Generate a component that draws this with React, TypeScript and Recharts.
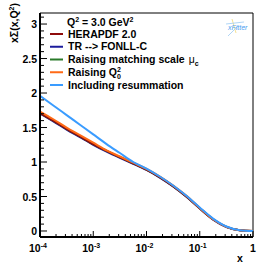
import React from "react";
import { LineChart, Line, XAxis, YAxis, Legend, ReferenceArea } from "recharts";

// log10(x) sample points and curve values
const logX = [-4, -3.75, -3.5, -3.25, -3, -2.75, -2.5, -2.25, -2, -1.75, -1.5, -1.25, -1, -0.75, -0.5, -0.25, 0];
const herapdf = [1.71, 1.6, 1.48, 1.37, 1.26, 1.16, 1.07, 0.98, 0.89, 0.78, 0.65, 0.5, 0.33, 0.17, 0.06, 0.01, 0];
const fonllC = [1.7, 1.59, 1.47, 1.36, 1.25, 1.15, 1.06, 0.975, 0.885, 0.775, 0.645, 0.495, 0.325, 0.165, 0.058, 0.01, 0];
const matchScale = [1.71, 1.6, 1.48, 1.37, 1.26, 1.16, 1.07, 0.98, 0.89, 0.78, 0.65, 0.5, 0.33, 0.17, 0.06, 0.01, 0];
const raiseQ0 = [1.73, 1.62, 1.5, 1.39, 1.28, 1.17, 1.08, 0.99, 0.9, 0.79, 0.66, 0.51, 0.335, 0.17, 0.06, 0.01, 0];
const resum = [1.96, 1.82, 1.68, 1.54, 1.4, 1.26, 1.13, 1.0, 0.905, 0.79, 0.66, 0.51, 0.34, 0.18, 0.065, 0.012, 0];

const yMajor = [0, 0.5, 1, 1.5, 2, 2.5, 3];
const yTicks = [0, 0.1, 0.2, 0.3, 0.4, 0.5, 0.6, 0.7, 0.8, 0.9, 1, 1.1, 1.2, 1.3, 1.4, 1.5, 1.6, 1.7, 1.8, 1.9, 2, 2.1, 2.2, 2.3, 2.4, 2.5, 2.6, 2.7, 2.8, 2.9, 3, 3.1];
const decades = [-4, -3, -2, -1];
const xTicks: number[] = [];
decades.forEach((d) => {
  for (let m = 1; m < 10; m++) xTicks.push(m * Math.pow(10, d));
});
xTicks.push(1);

const colors = {
  herapdf: "#8e0b0b",
  fonllC: "#1c1c9c",
  matchScale: "#2a7a2a",
  raiseQ0: "#ff6a16",
  resum: "#3a9cff",
};

const data = logX.map((l, i) => ({
  x: Math.pow(10, l),
  herapdf: herapdf[i],
  fonllC: fonllC[i],
  matchScale: matchScale[i],
  raiseQ0: raiseQ0[i],
  resum: resum[i],
}));

const FONT = "'Liberation Sans', Arial, Helvetica, sans-serif";

const YTick = (props: any) => {
  const { x, y, payload } = props;
  const v = payload.value;
  const major = yMajor.some((m) => Math.abs(m - v) < 1e-6);
  return (
    <g>
      <line x1={x} x2={x + (major ? 7 : 4)} y1={y} y2={y} stroke="#000" strokeWidth={1} />
      {major && (
        <text x={x - 3} y={y + 4} textAnchor="end" fontSize={10.5} fontWeight="bold" fontFamily={FONT} fill="#000">
          {String(v)}
        </text>
      )}
    </g>
  );
};

const XTick = (props: any) => {
  const { x, y, payload } = props;
  const lv = Math.log10(payload.value);
  const e = Math.round(lv);
  const major = Math.abs(lv - e) < 1e-6;
  return (
    <g>
      <line x1={x} x2={x} y1={y} y2={y - (major ? 6 : 3)} stroke="#000" strokeWidth={1} />
      {major &&
        (e === 0 ? (
          <text x={x} y={y + 15} textAnchor="middle" fontSize={10.5} fontWeight="bold" fontFamily={FONT} fill="#000">
            1
          </text>
        ) : (
          <text x={x - 2} y={y + 15} textAnchor="middle" fontSize={10.5} fontWeight="bold" fontFamily={FONT} fill="#000">
            10
            <tspan dy={-4} fontSize={7}>
              {String(e)}
            </tspan>
          </text>
        ))}
    </g>
  );
};

const rows = [
  { key: "herapdf", label: <tspan>HERAPDF 2.0</tspan> },
  { key: "fonllC", label: <tspan>TR --&gt; FONLL-C</tspan> },
  {
    key: "matchScale",
    label: (
      <>
        <tspan>Raising matching scale </tspan>
        <tspan fontWeight="normal" dx={1}> μ</tspan>
        <tspan dy={3} fontSize={7}>c</tspan>
      </>
    ),
  },
  {
    key: "raiseQ0",
    label: (
      <>
        <tspan>Raising Q</tspan>
        <tspan dy={-4} fontSize={7}>2</tspan>
        <tspan dx={-4} dy={7} fontSize={7}>0</tspan>
      </>
    ),
  },
  { key: "resum", label: <tspan>Including resummation</tspan> },
];

const LegendBox = () => (
  <svg width={266} height={100} style={{ display: "block" }}>
    <g fontFamily={FONT} fontWeight="bold" fontSize={10.5} fill="#000">
      <text x={67} y={26}>
        Q<tspan dy={-4} fontSize={7}>2</tspan>
        <tspan dy={4}> = 3.0 GeV</tspan>
        <tspan dy={-4} fontSize={7}>2</tspan>
      </text>
      {rows.map((r, i) => {
        const base = 37.5 + i * 12.75;
        return (
          <g key={r.key}>
            <line x1={50} x2={63} y1={base - 3.5} y2={base - 3.5} stroke={(colors as any)[r.key]} strokeWidth={2} />
            <text x={68} y={base}>
              {r.label}
            </text>
          </g>
        );
      })}
    </g>
    {/* xFitter logo */}
    <g>
      <line x1={232} x2={236} y1={19} y2={33} stroke="#f3d97a" strokeWidth={0.8} />
      <line x1={226} x2={244} y1={24} y2={22} stroke="#9ccaf2" strokeWidth={0.8} />
      <line x1={228} x2={238} y1={36} y2={26} stroke="#9ccaf2" strokeWidth={0.8} />
      <text x={228} y={30} fontSize={7} fontStyle="italic" fontFamily={FONT} fill="#4a9ef0">
        xFitter
      </text>
    </g>
  </svg>
);

export default function App() {
  return (
    <div style={{ position: "absolute", left: 0, top: 0, background: "#fff" }}>
      <LineChart
        width={266}
        height={264}
        data={data}
        margin={{ top: 13, right: 13, bottom: 0, left: 0 }}
        style={{ fontFamily: FONT }}
      >
        <XAxis
          dataKey="x"
          type="number"
          scale="log"
          domain={[1e-4, 1]}
          allowDataOverflow
          ticks={xTicks}
          interval={0}
          height={27}
          tickSize={0}
          tickMargin={0}
          tickLine={false}
          axisLine={{ stroke: "#000", strokeWidth: 2 }}
          tick={<XTick />}
          label={{
            content: (p: any) => {
              const vb = p.viewBox || { x: 40, y: 237, width: 213, height: 27 };
              return (
                <text x={vb.x + vb.width - 13} y={vb.y + vb.height - 2} textAnchor="middle" fontSize={10.5} fontWeight="bold" fontFamily={FONT} fill="#000">
                  x
                </text>
              );
            },
          }}
        />
        <YAxis
          type="number"
          domain={[-0.087, 3.16]}
          allowDataOverflow
          ticks={yTicks}
          interval={0}
          width={40}
          tickSize={0}
          tickMargin={0}
          tickLine={false}
          axisLine={{ stroke: "#000", strokeWidth: 2 }}
          tick={<YTick />}
          label={{
            content: (p: any) => {
              const vb = p.viewBox || { x: 0, y: 13, width: 40, height: 224 };
              const lx = vb.x + 18;
              const ly = vb.y - 10;
              return (
                <text x={lx} y={ly} transform={`rotate(-90, ${lx}, ${ly})`} textAnchor="end" fontSize={10.5} fontWeight="bold" fontFamily={FONT} fill="#000">
                  xΣ(x,Q<tspan dy={-4} fontSize={7}>2</tspan>
                  <tspan dy={4}>)</tspan>
                </text>
              );
            },
          }}
        />
        <ReferenceArea x1={1e-4} x2={1} y1={-0.087} y2={3.16} ifOverflow="visible" fill="none" stroke="#000" strokeWidth={1} />
        <Line dataKey="fonllC" name="TR --> FONLL-C" type="monotone" stroke={colors.fonllC} strokeWidth={2} dot={false} isAnimationActive={false} />
        <Line dataKey="matchScale" name="Raising matching scale" type="monotone" stroke={colors.matchScale} strokeWidth={2} dot={false} isAnimationActive={false} />
        <Line dataKey="herapdf" name="HERAPDF 2.0" type="monotone" stroke={colors.herapdf} strokeWidth={2} dot={false} isAnimationActive={false} />
        <Line dataKey="raiseQ0" name="Raising Q0" type="monotone" stroke={colors.raiseQ0} strokeWidth={2} dot={false} isAnimationActive={false} />
        <Line dataKey="resum" name="Including resummation" type="monotone" stroke={colors.resum} strokeWidth={2} dot={false} isAnimationActive={false} />
        <Legend
          layout="horizontal"
          verticalAlign="middle"
          align="center"
          content={<LegendBox />}
          wrapperStyle={{ position: "absolute", top: 0, left: 0, width: 266, height: 100, pointerEvents: "none" }}
        />
      </LineChart>
    </div>
  );
}
